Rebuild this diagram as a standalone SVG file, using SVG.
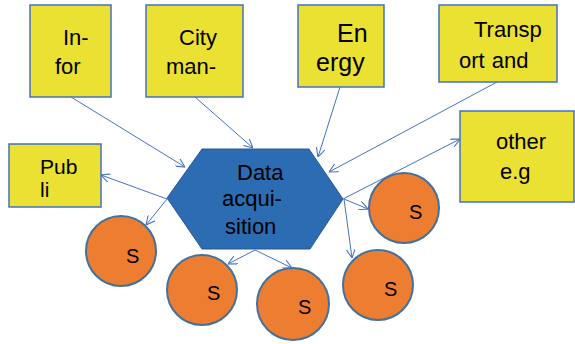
<svg xmlns="http://www.w3.org/2000/svg" width="575" height="344" viewBox="0 0 575 344">
<style>
.box{fill:#EBE133;stroke:#4472C4;stroke-width:1.5}
.circ{fill:#ED7D31;stroke:#41719C;stroke-width:2}
.hex{fill:#2B6CB3;stroke:#2F5597;stroke-width:1}
.t{font-family:"Liberation Sans",Arial,sans-serif;font-size:22px;fill:#000}
.s{font-family:"Liberation Sans",Arial,sans-serif;font-size:20px;fill:#000}
.c{fill:none;stroke:#4472C4;stroke-width:1}
</style>
<defs>
<marker id="arr" viewBox="0 0 10 10" refX="10" refY="5" markerWidth="9" markerHeight="9" orient="auto" markerUnits="userSpaceOnUse">
<path d="M0,0 L10,5 L0,10" fill="none" stroke="#4472C4" stroke-width="1.2"/>
</marker>
</defs>
<g id="n-infor"><rect class="box" x="30" y="5" width="81" height="92"/><text class="t" x="63" y="45">In-</text><text class="t" x="55" y="74">for</text></g>
<g id="n-city"><rect class="box" x="146" y="5" width="97" height="92"/><text class="t" x="179" y="45">City</text><text class="t" x="166" y="74">man-</text></g>
<g id="n-energy"><rect class="box" x="298" y="5" width="86" height="82"/><text class="t" style="font-size:25px" x="337" y="42">En</text><text class="t" style="font-size:25px" x="316" y="71">ergy</text></g>
<g id="n-transport"><rect class="box" x="439" y="5" width="118" height="77"/><text class="t" x="474" y="37">Transp</text><text class="t" x="459" y="68" word-spacing="1">ort and</text></g>
<g id="n-other"><rect class="box" x="460" y="111" width="114" height="91"/><text class="t" x="496" y="149">other</text><text class="t" x="500" y="179">e.g</text></g>
<g id="n-publi"><rect class="box" x="9" y="144" width="92" height="63"/><text class="t" style="font-size:21px" x="40" y="174">Pub</text><text class="t" style="font-size:21px" x="40" y="197">li</text></g>
<g id="n-data"><polygon class="hex" points="167,198 202,149 309,149 343,199 310,249 202,249"/><text class="t" x="237" y="180">Data</text><text class="t" x="222" y="206">acqui-</text><text class="t" x="225" y="234">sition</text></g>
<g id="n-s1"><circle class="circ" cx="121" cy="251" r="35"/><text class="s" x="126" y="263">S</text></g>
<g id="n-s2"><circle class="circ" cx="202" cy="290" r="35"/><text class="s" x="207" y="300">S</text></g>
<g id="n-s3"><circle class="circ" cx="293" cy="304" r="36"/><text class="s" x="298" y="314">S</text></g>
<g id="n-s4"><circle class="circ" cx="378" cy="285" r="35"/><text class="s" x="384" y="296">S</text></g>
<g id="n-s5"><circle class="circ" cx="404" cy="208" r="35"/><text class="s" x="409" y="219">S</text></g>
<g id="connectors">
<line class="c" x1="71" y1="97" x2="185" y2="167" marker-end="url(#arr)"/>
<line class="c" x1="195" y1="97" x2="253" y2="148" marker-end="url(#arr)"/>
<line class="c" x1="340" y1="87" x2="318" y2="157" marker-end="url(#arr)"/>
<line class="c" x1="497" y1="82" x2="329" y2="172" marker-end="url(#arr)"/>
<line class="c" x1="343" y1="199" x2="460" y2="139" marker-end="url(#arr)"/>
<line class="c" x1="167" y1="199" x2="101" y2="175" marker-end="url(#arr)"/>
<line class="c" x1="167" y1="199" x2="146" y2="225" marker-end="url(#arr)"/>
<line class="c" x1="255" y1="250" x2="228" y2="264" marker-end="url(#arr)"/>
<line class="c" x1="255" y1="250" x2="292" y2="268" marker-end="url(#arr)"/>
<line class="c" x1="344" y1="199" x2="368" y2="209" marker-end="url(#arr)"/>
<line class="c" x1="344" y1="199" x2="352" y2="258" marker-end="url(#arr)"/>
</g>
</svg>
